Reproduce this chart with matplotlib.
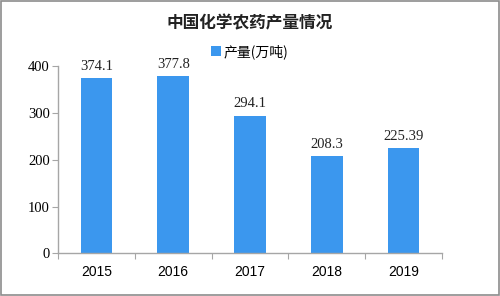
import matplotlib.pyplot as plt
from matplotlib.patches import Rectangle

plt.rcParams['font.family'] = ['Noto Sans CJK SC', 'DejaVu Sans']

years = ['2015', '2016', '2017', '2018', '2019']
output = [374.1, 377.8, 294.1, 208.3, 225.39]
value_labels = ['374.1', '377.8', '294.1', '208.3', '225.39']
yticks = [0, 100, 200, 300, 400]

bar_color = '#3b97ee'
axis_color = '#a6a6a6'

fig = plt.figure(figsize=(5, 2.96), dpi=100)
ax = fig.add_axes([0.116, 0.1436, 0.768, 0.6334])

x = range(len(years))
ax.bar(x, output, width=0.41, color=bar_color, label='产量(万吨)')
for xi, v, s in zip(x, output, value_labels):
    ax.text(xi, v + 11, s, ha='center', va='bottom', fontsize=10.5,
            family=['Liberation Serif', 'DejaVu Serif'], color='#222222')

ax.set_xlim(-0.5, len(years) - 0.5)
ax.set_ylim(0, 400)
ax.set_yticks(yticks)
ax.set_yticklabels([str(t) for t in yticks], family=['Liberation Serif'], fontsize=10.5)
ax.set_xticks([i - 0.5 for i in range(len(years) + 1)])
ax.set_xticklabels([])
ax.set_xticks(list(x), minor=True)
ax.set_xticklabels(years, minor=True, family=['Liberation Sans'], fontsize=10)
ax.tick_params(axis='x', which='minor', length=0, pad=8)
ax.tick_params(axis='x', which='major', length=4, color=axis_color, direction='out')
ax.tick_params(axis='y', length=4, color=axis_color, direction='out', pad=2)

for side in ['top', 'right']:
    ax.spines[side].set_visible(False)
for side in ['left', 'bottom']:
    ax.spines[side].set_color(axis_color)
    ax.spines[side].set_linewidth(1.0)

fig.text(0.5, 0.922, '中国化学农药产量情况', ha='center', va='center',
         fontsize=12, fontweight='bold', color='#222222')
leg = fig.legend(loc='center', bbox_to_anchor=(0.5, 0.825), frameon=False,
                 fontsize=10, handlelength=0.7, handleheight=0.7, handletextpad=0.2)

fig.patches.append(Rectangle((0.002, 0.003), 0.996, 0.994, transform=fig.transFigure,
                             fill=False, edgecolor='#8c8c8c', linewidth=1.2))

fig.savefig('out.png', dpi=100)
